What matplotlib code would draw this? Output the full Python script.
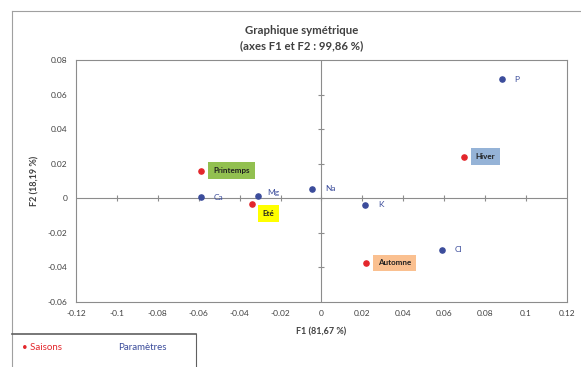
import numpy as np
import matplotlib.pyplot as plt
from matplotlib.lines import Line2D

# Paramètres (blue points)
param_names = ['P', 'Cl', 'K', 'Na', 'Mg', 'Ca']
param_f1 = [0.0883, 0.0590, 0.0215, -0.0044, -0.0312, -0.0590]
param_f2 = [0.0690, -0.0298, -0.0037, 0.0056, 0.0016, 0.0005]

# Saisons (red points)
season_names = ['Printemps', 'Eté', 'Hiver', 'Automne']
season_f1 = [-0.0590, -0.0341, 0.0698, 0.0220]
season_f2 = [0.0160, -0.0030, 0.0241, -0.0374]
season_colors = ['#92c050', '#ffff00', '#95b3d7', '#fac090']

x_ticks = np.round(np.arange(-0.12, 0.121, 0.02), 2)
y_ticks = np.round(np.arange(-0.06, 0.081, 0.02), 2)

blue = '#3b4c9b'
red = '#e3262b'
plt.rcParams['font.family'] = ['Lato', 'DejaVu Sans']

fig = plt.figure(figsize=(5.81, 3.67), dpi=100)
ax = fig.add_axes([0.1308, 0.177, 0.845, 0.6594])
ax.set_xlim(-0.12, 0.12)
ax.set_ylim(-0.06, 0.08)
for s in ax.spines.values():
    s.set_color('#8c8c8c')
    s.set_linewidth(0.8)

ax.set_xticks(x_ticks)
ax.set_yticks(y_ticks)
ax.set_xticklabels(['0' if v == 0 else f'{v:g}' for v in x_ticks])
ax.set_yticklabels(['0' if v == 0 else f'{v:g}' for v in y_ticks])
ax.tick_params(length=0, labelsize=6, colors='#404040', pad=6)

# central axes with cross ticks
ax.axhline(0, color='#8c8c8c', lw=0.8, zorder=1)
ax.axvline(0, color='#8c8c8c', lw=0.8, zorder=1)
ax.plot(x_ticks[1:-1], np.zeros(len(x_ticks) - 2), ls='none', marker='|',
        ms=5, mew=0.8, color='#8c8c8c', zorder=1)
ax.plot(np.zeros(len(y_ticks) - 2), y_ticks[1:-1], ls='none', marker='_',
        ms=5, mew=0.8, color='#8c8c8c', zorder=1)

ax.scatter(param_f1, param_f2, s=14, color=blue, zorder=3)
ax.scatter(season_f1, season_f2, s=14, color=red, zorder=3)

param_off = {'P': (9, 0), 'Cl': (9, 0), 'K': (9, 0), 'Na': (9, 0),
             'Mg': (7, 2), 'Ca': (9, 0)}
for n, x, y in zip(param_names, param_f1, param_f2):
    ax.annotate(n, (x, y), xytext=param_off[n], textcoords='offset points',
                fontsize=6, color=blue, va='center', ha='left')

season_off = {'Printemps': (9, 0), 'Eté': (8, -7), 'Hiver': (8, 0),
              'Automne': (8, 0)}
for n, x, y, c in zip(season_names, season_f1, season_f2, season_colors):
    ax.annotate(n, (x, y), xytext=season_off[n], textcoords='offset points',
                fontsize=5.8, fontweight='bold', color='#202020',
                va='center', ha='left',
                bbox=dict(boxstyle='square,pad=0.6', fc=c, ec='none'))

ax.set_xlabel('F1 (81,67 %)', fontsize=6.5, fontweight='bold',
              color='#404040', labelpad=7)
ax.set_ylabel('F2 (18,19 %)', fontsize=6.5, fontweight='bold',
              color='#404040', labelpad=6)

fig.text(302 / 581, 1 - 31 / 367, 'Graphique symétrique', ha='center',
         va='center', fontsize=8.2, fontweight='bold', color='#404040')
fig.text(302 / 581, 1 - 46 / 367, '(axes F1 et F2 : 99,86 %)', ha='center',
         va='center', fontsize=8.2, fontweight='bold', color='#404040')

# outer frame lines
fig.add_artist(Line2D([12 / 581, 1], [1 - 11 / 367] * 2, color='#a0a0a0',
                      lw=0.8, transform=fig.transFigure))
fig.add_artist(Line2D([12 / 581] * 2, [0, 1 - 11 / 367], color='#a0a0a0',
                      lw=0.8, transform=fig.transFigure))

# legend box at bottom left
fig.add_artist(Line2D([12 / 581, 196 / 581], [1 - 334 / 367] * 2,
                      color='#606060', lw=1.2, transform=fig.transFigure))
fig.add_artist(Line2D([196 / 581] * 2, [0, 1 - 334 / 367],
                      color='#606060', lw=0.8, transform=fig.transFigure))
fig.text(22 / 581, 1 - 348 / 367, '• Saisons', color=red, fontsize=7,
         va='center', ha='left')
fig.text(118 / 581, 1 - 348 / 367, 'Paramètres', color=blue, fontsize=7,
         va='center', ha='left')

fig.savefig('out.png', dpi=100)
